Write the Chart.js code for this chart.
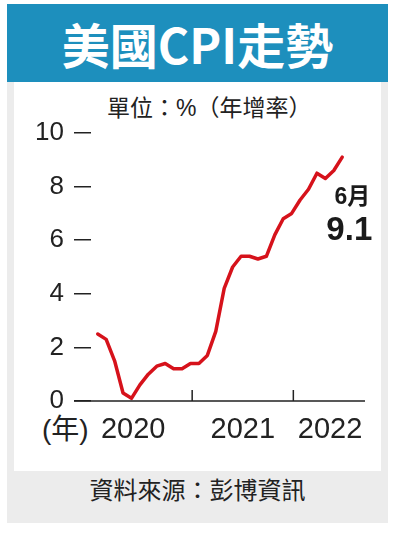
<!DOCTYPE html>
<html>
<head>
<meta charset="utf-8">
<script src="https://cdn.jsdelivr.net/npm/chart.js@4.4.1/dist/chart.umd.min.js"></script>
<style>
    body { margin: 0; background: #fff; width: 399px; height: 536px; position: relative; overflow: hidden;
           font-family: "Liberation Sans", "Noto Sans CJK TC", sans-serif; color: #222; }
    .abs { position: absolute; }
    #panel { left: 7px; top: 4px; width: 381px; height: 519px; background: #ececec; }
    #header { left: 7px; top: 4px; width: 381px; height: 78px; background: #1d8fbd; color: #fff;
              font: bold 48px "Noto Sans CJK TC", sans-serif; text-align: center; line-height: 78px; }
    #inner { left: 14px; top: 82px; width: 367px; height: 389px; background: #fff; }
    #unit { left: 107px; top: 94px; font-size: 23px; line-height: 28px; white-space: nowrap; }
    #yearUnit { left: 42px; top: 413px; font-size: 28px; line-height: 34px; white-space: nowrap; }
    #footer { left: 7px; top: 471px; width: 381px; height: 52px; text-align: center; line-height: 52px;
              font: 24px "Noto Sans CJK TC", sans-serif; color: #222; }
    #chart { left: 0; top: 0; }
</style>
</head>
<body>
<div id="panel" class="abs"></div>
<div id="header" class="abs">美國CPI走勢</div>
<div id="inner" class="abs"></div>
<div id="unit" class="abs">單位：%（年增率）</div>
<div id="yearUnit" class="abs">(年)</div>
<div id="footer" class="abs">資料來源：彭博資訊</div>
<canvas id="chart" class="abs" width="399" height="536"></canvas>

<script>
// Monthly CPI, year-on-year %, Jan 2020 - Jun 2022
const months = [
    '2020-01', '2020-02', '2020-03', '2020-04', '2020-05', '2020-06',
    '2020-07', '2020-08', '2020-09', '2020-10', '2020-11', '2020-12',
    '2021-01', '2021-02', '2021-03', '2021-04', '2021-05', '2021-06',
    '2021-07', '2021-08', '2021-09', '2021-10', '2021-11', '2021-12',
    '2022-01', '2022-02', '2022-03', '2022-04', '2022-05', '2022-06'
];
const cpiValues = [
    2.5, 2.3, 1.5, 0.3, 0.1, 0.6, 1.0, 1.3, 1.4, 1.2, 1.2, 1.4,
    1.4, 1.7, 2.6, 4.2, 5.0, 5.4, 5.4, 5.3, 5.4, 6.2, 6.8, 7.0,
    7.5, 7.9, 8.5, 8.3, 8.6, 9.1
];
const yearLabels = ['2020', '2021', '2022'];
const yearLabelPos = [4.2, 17.2, 27.55];   // month index where each year label sits
const yearBoundaries = [11.2, 23.2];       // month index of the year tick marks
const lastMonthLabel = '6月';

// baseline, year ticks and the latest-value note
const decorPlugin = {
    id: 'decor',
    afterDraw(chart) {
        const { ctx, chartArea, scales: { x, y } } = chart;
        const base = y.getPixelForValue(0);
        ctx.save();
        ctx.strokeStyle = '#222';
        ctx.lineWidth = 1.5;
        ctx.beginPath();
        ctx.moveTo(chartArea.left - 17, base);
        ctx.lineTo(chartArea.right, base);
        yearBoundaries.forEach(v => {
            const px = x.getPixelForValue(v);
            ctx.moveTo(px, base);
            ctx.lineTo(px, base - 11);
        });
        ctx.stroke();

        const last = cpiValues.length - 1;
        const px = x.getPixelForValue(last);
        const py = y.getPixelForValue(cpiValues[last]);
        ctx.fillStyle = '#1a1a1a';
        ctx.textAlign = 'right';
        ctx.textBaseline = 'alphabetic';
        ctx.font = 'bold 23px "Liberation Sans", "Noto Sans CJK TC"';
        ctx.fillText(lastMonthLabel, px + 28, py + 47);
        ctx.font = 'bold 33px "Liberation Sans", "Noto Sans CJK TC"';
        ctx.fillText(cpiValues[last].toFixed(1), px + 30, py + 83);
        ctx.restore();
    }
};

new Chart(document.getElementById('chart'), {
    type: 'line',
    data: {
        datasets: [{
            label: 'CPI',
            data: cpiValues.map((v, i) => ({ x: i, y: v })),
            borderColor: '#d6121b',
            borderWidth: 3.5,
            pointRadius: 0,
            tension: 0,
            borderJoinStyle: 'round',
            borderCapStyle: 'round'
        }]
    },
    options: {
        responsive: false,
        animation: false,
        layout: { padding: { left: 0, right: 34, top: 133, bottom: 0 } },
        plugins: { legend: { display: false }, tooltip: { enabled: false } },
        scales: {
            x: {
                type: 'linear',
                min: -0.8,
                max: 31.7,
                afterBuildTicks: s => { s.ticks = yearLabelPos.map(v => ({ value: v })); },
                afterFit: s => { s.height = 135; },
                ticks: {
                    callback: (v, i) => yearLabels[i],
                    font: { family: 'Liberation Sans', size: 29 },
                    color: '#222',
                    padding: 12,
                    maxRotation: 0,
                    autoSkip: false
                },
                grid: { display: false, drawTicks: false },
                border: { display: false }
            },
            y: {
                min: 0,
                max: 10,
                afterFit: s => { s.width = 91; },
                ticks: {
                    stepSize: 2,
                    font: { family: 'Liberation Sans', size: 26 },
                    color: '#222',
                    padding: 10
                },
                grid: {
                    drawOnChartArea: false,
                    drawTicks: true,
                    tickLength: 17,
                    color: '#222',
                    lineWidth: 1.5
                },
                border: { display: false }
            }
        }
    },
    plugins: [decorPlugin]
});
</script>
</body>
</html>
